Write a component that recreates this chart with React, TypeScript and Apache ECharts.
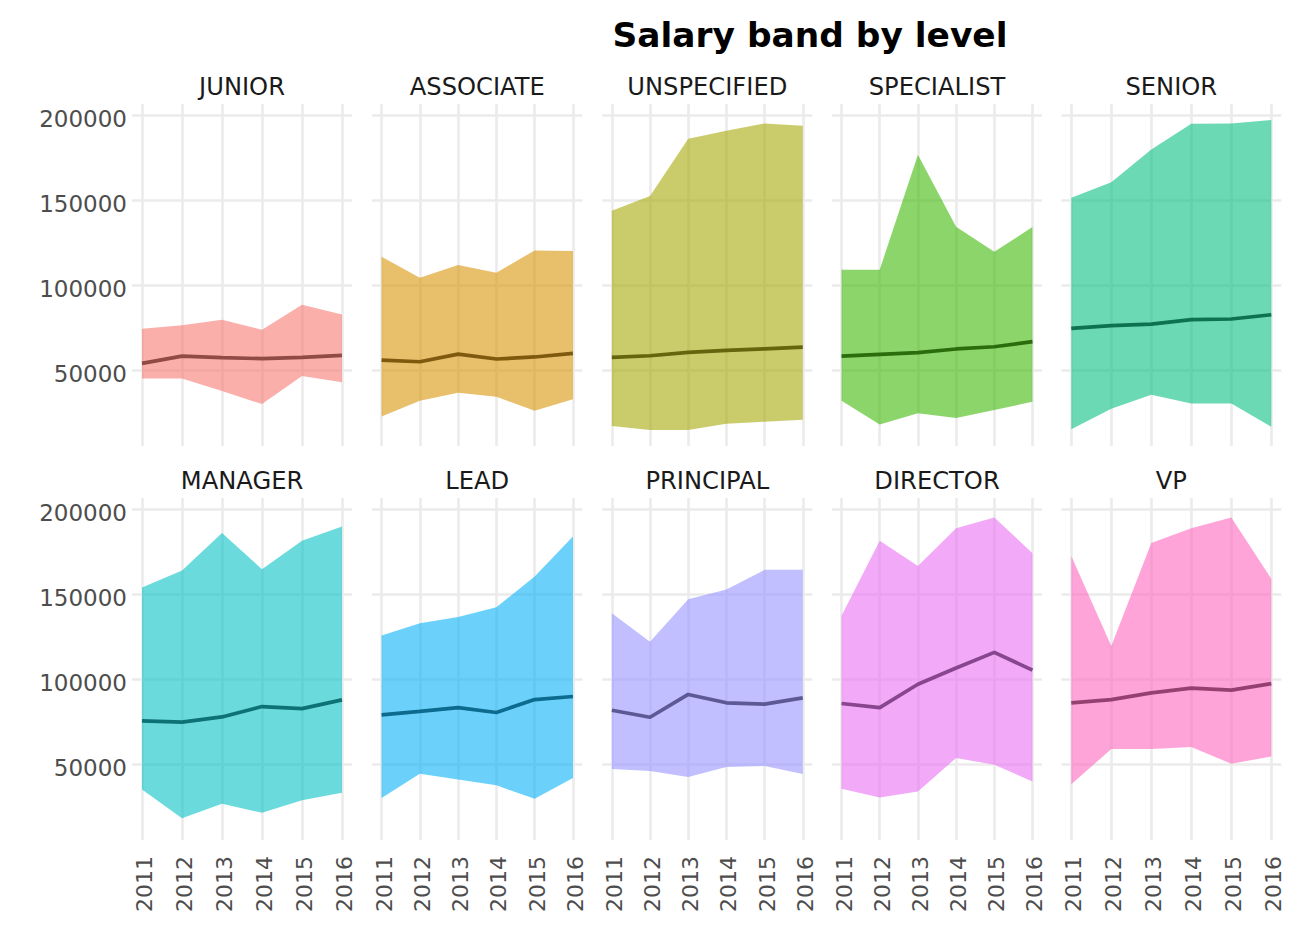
import React, { useEffect, useRef } from "react";
import * as echarts from "echarts";

const years = [2011, 2012, 2013, 2014, 2015, 2016];
const levels = [
  "JUNIOR", "ASSOCIATE", "UNSPECIFIED", "SPECIALIST", "SENIOR",
  "MANAGER", "LEAD", "PRINCIPAL", "DIRECTOR", "VP",
];
const yTicks = [50000, 100000, 150000, 200000];

const lowBand = [
  [45300, 45300, 37900, 30200, 46700, 43000],
  [23000, 32200, 36900, 34600, 26300, 33000],
  [17300, 15000, 15000, 18700, 19900, 21000],
  [32200, 18300, 24800, 22000, 26700, 31600],
  [15400, 27500, 35700, 30600, 30600, 16900],
  [35300, 18400, 26900, 21600, 29000, 33300],
  [30200, 44500, 41200, 37700, 29800, 42000],
  [47300, 46100, 42600, 48500, 49100, 44300],
  [35700, 30600, 34100, 53800, 49800, 40000],
  [38300, 59100, 59100, 60200, 50400, 54700],
];
const medianSalary = [
  [54100, 58400, 57500, 56900, 57700, 58800],
  [56100, 55100, 59600, 56700, 57900, 60000],
  [57700, 58600, 60600, 61800, 62700, 63700],
  [58400, 59400, 60400, 62600, 63900, 66900],
  [74700, 76300, 77200, 79800, 80200, 82700],
  [75600, 74800, 77900, 84000, 82800, 87900],
  [79100, 81200, 83400, 80500, 88100, 89900],
  [81800, 77700, 91100, 86200, 85400, 89100],
  [85800, 83400, 97100, 106600, 115800, 105400],
  [86200, 88100, 92000, 94800, 93600, 97500],
];
const highBand = [
  [74500, 76600, 79800, 73900, 88600, 82900],
  [116800, 104500, 111900, 107400, 120500, 120100],
  [143800, 152400, 186100, 190800, 195100, 193700],
  [109200, 109200, 176700, 134400, 119700, 134200],
  [151400, 160600, 179800, 194900, 195100, 197100],
  [153900, 163900, 185900, 164700, 181400, 189800],
  [125800, 132900, 136600, 142300, 160400, 183900],
  [138800, 122100, 147000, 152700, 164300, 164300],
  [137400, 181400, 166600, 188800, 195100, 174100],
  [172500, 119500, 180000, 188800, 195100, 159000],
];
const fillColors = [
  "#F8766D", "#D89000", "#A3A500", "#39B600", "#00BF7D",
  "#00BFC4", "#00B0F6", "#9590FF", "#E76BF3", "#FF62BC",
];

const colLeft = [132, 372, 602.3, 832, 1061.3];
const colWidth = [220, 210.5, 210, 210, 220];
const rowTop = [104, 498];
const rowHeight = 342;
const labelY = [86.9, 481.2];
const FONT = "DejaVu Sans";

function darken(hex: string, f: number): string {
  const n = parseInt(hex.slice(1), 16);
  const r = Math.round(((n >> 16) & 255) * f);
  const g = Math.round(((n >> 8) & 255) * f);
  const b = Math.round((n & 255) * f);
  return "#" + [r, g, b].map((v) => v.toString(16).padStart(2, "0")).join("");
}

export default function App() {
  const ref = useRef<HTMLDivElement>(null);
  useEffect(() => {
    const chart = echarts.init(ref.current!, null, { renderer: "svg" });
    const grid: any[] = [];
    const xAxis: any[] = [];
    const yAxis: any[] = [];
    const series: any[] = [];
    const graphic: any[] = [
      {
        type: "text",
        x: 810,
        y: 35,
        style: {
          text: "Salary band by level",
          fill: "#000000",
          fontSize: 34.4,
          fontWeight: "bold",
          fontFamily: FONT,
          align: "center",
          verticalAlign: "middle",
          textAlign: "center",
          textVerticalAlign: "middle",
        },
      },
    ];
    const gridLine = { show: true, lineStyle: { color: "#EBEBEB", width: 2.6 } };

    levels.forEach((name, i) => {
      const r = Math.floor(i / 5);
      const c = i % 5;
      const color = fillColors[i];
      grid.push({
        left: colLeft[c],
        top: rowTop[r],
        width: colWidth[c],
        height: rowHeight,
        containLabel: false,
        outerBoundsMode: "none",
      });
      xAxis.push({
        type: "value",
        gridIndex: i,
        min: 2010.75,
        max: 2016.25,
        axisLine: { show: false },
        axisTick: { show: false, customValues: years },
        splitLine: gridLine,
        axisLabel: {
          show: r === 1,
          customValues: years,
          rotate: 90,
          margin: 16,
          formatter: (v: number) => "{t|" + v + "}",
          rich: {
            t: {
              fontSize: 22,
              fontFamily: FONT,
              color: "#4D4D4D",
              padding: [5, 0, 0, 0],
            },
          },
        },
      });
      yAxis.push({
        type: "value",
        gridIndex: i,
        min: 5600,
        max: 206500,
        axisLine: { show: false },
        axisTick: { show: false, customValues: yTicks },
        splitLine: gridLine,
        axisLabel: {
          show: c === 0,
          customValues: yTicks,
          margin: 5,
          formatter: (v: number) => "{t|" + v + "}",
          rich: {
            t: {
              fontSize: 23,
              fontFamily: FONT,
              color: "#4D4D4D",
              padding: [8, 0, 0, 0],
            },
          },
        },
      });
      series.push({
        type: "custom",
        name: name + " band",
        xAxisIndex: i,
        yAxisIndex: i,
        silent: true,
        data: years.map((y, j) => [y, lowBand[i][j], highBand[i][j]]),
        encode: { x: 0, y: [1, 2] },
        renderItem: (params: any, api: any) => {
          if (params.dataIndex !== 0) return { type: "group", children: [] };
          const n = params.dataInsideLength || years.length;
          const top: number[][] = [];
          const bottom: number[][] = [];
          for (let j = 0; j < n; j++) {
            const x = api.value(0, j);
            top.push(api.coord([x, api.value(2, j)]));
            bottom.push(api.coord([x, api.value(1, j)]));
          }
          return {
            type: "polygon",
            shape: { points: top.concat(bottom.reverse()) },
            style: { fill: color, opacity: 0.58, stroke: "none" },
          };
        },
      });
      series.push({
        type: "line",
        name: name + " median",
        xAxisIndex: i,
        yAxisIndex: i,
        symbol: "none",
        silent: true,
        z: 3,
        lineStyle: { color: darken(color, 0.52), width: 3.7, opacity: 0.88 },
        data: years.map((y, j) => [y, medianSalary[i][j]]),
      });
      graphic.push({
        type: "text",
        x: colLeft[c] + colWidth[c] / 2,
        y: labelY[r],
        style: {
          text: name,
          fill: "#1A1A1A",
          fontSize: 24.2,
          fontFamily: FONT,
          align: "center",
          verticalAlign: "middle",
          textAlign: "center",
          textVerticalAlign: "middle",
        },
      });
    });

    chart.setOption({
      animation: false,
      backgroundColor: "#FFFFFF",
      grid,
      xAxis,
      yAxis,
      series,
      graphic,
    });
    return () => chart.dispose();
  }, []);

  return (
    <div
      ref={ref}
      style={{ position: "absolute", left: 0, top: 0, width: 1304, height: 936 }}
    />
  );
}
